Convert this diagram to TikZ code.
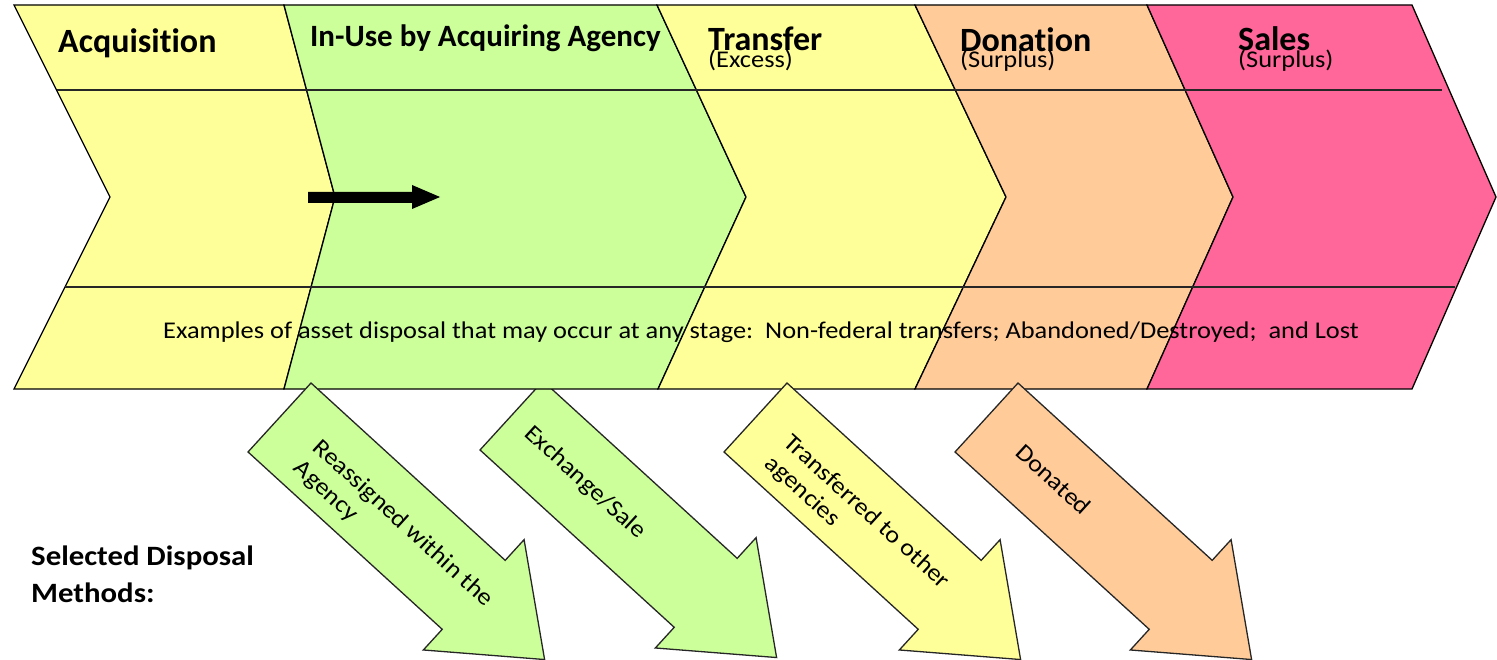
\documentclass[tikz,border=0pt]{standalone}
\usepackage{fontspec}
\setmainfont{Carlito}[Ligatures=NoCommon]
\newfontfamily\widefont[FakeStretch=1.1,Ligatures=NoCommon]{Carlito}
\definecolor{cyel}{HTML}{FFFF99}
\definecolor{cgrn}{HTML}{CCFF99}
\definecolor{corg}{HTML}{FFCC99}
\definecolor{cpnk}{HTML}{FF6699}
\begin{document}
\begin{tikzpicture}[x=1pt,y=-1pt,
  chev/.style={draw=black, line width=1.3pt, line join=miter},
  divline/.style={draw=black!85, line width=1.6pt},
  darrow/.style={draw=black!85, line width=1.3pt, line join=miter},
  ttl/.style={inner sep=0pt, anchor=base west, font=\fontsize{34}{40}\selectfont\bfseries},
  sub/.style={inner sep=0pt, anchor=base west, font=\widefont\fontsize{24}{28}\selectfont},
  body/.style={inner sep=0pt, anchor=base west, font=\widefont\fontsize{24}{28}\selectfont},
  atext/.style={inner sep=0pt, anchor=west, align=left, rotate=-42.4, font=\widefont\fontsize{24}{28}\selectfont}]
\useasboundingbox (0,0) rectangle (1497,660);

% arrow drawn behind the chevrons
\begin{scope}[shift={(543,381)},rotate=-42.4]
  \draw[darrow,fill=cgrn] (0,0) -- (263,0) -- (263,-28) -- (359,46.7) -- (263,121.4) -- (263,93.4) -- (0,93.4) -- cycle;
  \node[atext] (a2) at (22,47) {Exchange/Sale};
\end{scope}

% chevrons
\draw[chev,fill=cyel] (14,5) -- (284,5) -- (335,197) -- (284,389) -- (14,389) -- (110,197) -- cycle;
\draw[chev,fill=cgrn] (284,5) -- (657,5) -- (746,197) -- (658,389) -- (284,389) -- (335,197) -- cycle;
\draw[chev,fill=cyel] (657,5) -- (915,5) -- (1006,197) -- (915,389) -- (658,389) -- (746,197) -- cycle;
\draw[chev,fill=corg] (915,5) -- (1147,5) -- (1233,197) -- (1147,389) -- (915,389) -- (1006,197) -- cycle;
\draw[chev,fill=cpnk] (1147,5) -- (1412,5) -- (1496,197) -- (1412,389) -- (1147,389) -- (1233,197) -- cycle;

% divider lines
\draw[divline] (57,90) -- (1442,90);
\draw[divline] (65,287) -- (1455,287);

% titles
\node[ttl] (acq) at (58,53) {Acquisition};
\node[ttl,font=\fontsize{31}{36}\selectfont\bfseries] (inuse) at (310,47) {In-Use by Acquiring Agency};
\node[ttl] (trans) at (708,51) {Transfer};
\node[sub] (transs) at (708,68) {(Excess)};
\node[ttl] (don) at (960,52) {Donation};
\node[sub] (dons) at (960,68) {(Surplus)};
\node[ttl] (sal) at (1238,51) {Sales};
\node[sub] (sals) at (1238,68) {(Surplus)};

% example text
\node[body] (ex) at (163,338) {Examples of asset disposal that may occur at any stage:\ \ Non-federal transfers; Abandoned/Destroyed;\ \ and Lost};

% black arrow
\fill[black] (308,192) -- (412,192) -- (412,185) -- (440,197) -- (412,209) -- (412,203) -- (308,203) -- cycle;

% left label
\node[ttl,font=\widefont\fontsize{28}{32}\selectfont\bfseries] (sel1) at (31,565) {Selected Disposal};
\node[ttl,font=\widefont\fontsize{28}{32}\selectfont\bfseries] (sel2) at (31,602) {Methods:};

% disposal arrows over the chevrons
\begin{scope}[shift={(311,383)},rotate=-42.4]
  \draw[darrow,fill=cgrn] (0,0) -- (263,0) -- (263,-28) -- (359,46.7) -- (263,121.4) -- (263,93.4) -- (0,93.4) -- cycle;
  \node[atext] (a1) at (45,56) {Reassigned within the\\Agency};
\end{scope}
\begin{scope}[shift={(787,383)},rotate=-42.4]
  \draw[darrow,fill=cyel] (0,0) -- (263,0) -- (263,-28) -- (359,46.7) -- (263,121.4) -- (263,93.4) -- (0,93.4) -- cycle;
  \node[atext] (a3) at (38,56) {Transferred to other\\agencies};
\end{scope}
\begin{scope}[shift={(1018,383)},rotate=-42.4]
  \draw[darrow,fill=corg] (0,0) -- (263,0) -- (263,-28) -- (359,46.7) -- (263,121.4) -- (263,93.4) -- (0,93.4) -- cycle;
  \node[atext] (a4) at (45,47) {Donated};
\end{scope}
\end{tikzpicture}
\end{document}
